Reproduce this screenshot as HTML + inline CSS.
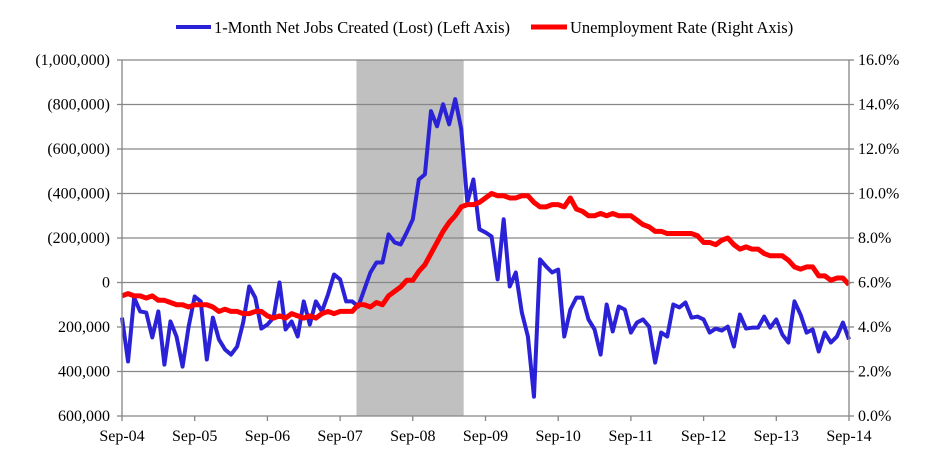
<!DOCTYPE html>
<html><head><meta charset="utf-8"><style>
body{margin:0;background:#fff;}
svg text{font-family:"Liberation Serif",serif;fill:#000;}
</style></head><body>
<svg id="chart" width="932" height="459" viewBox="0 0 932 459" xmlns="http://www.w3.org/2000/svg">
<g id="legend">
  <line x1="176" y1="27" x2="211" y2="27" stroke="#2b22d8" stroke-width="4"/>
  <text x="214" y="33" font-size="16.5">1-Month Net Jobs Created (Lost) (Left Axis)</text>
  <line x1="531" y1="27" x2="567" y2="27" stroke="#ff0000" stroke-width="5"/>
  <text x="570" y="33" font-size="16.5">Unemployment Rate (Right Axis)</text>
</g>
<g id="recession"></g>
<g id="grid"></g>
<g id="series"></g>
<g id="axes"></g>
</svg>
<script>
const leftTicks=[-1000000,-800000,-600000,-400000,-200000,0,200000,400000,600000];
const leftTickLabels=["(1,000,000)","(800,000)","(600,000)","(400,000)","(200,000)","0","200,000","400,000","600,000"];
const rightTicks=[16,14,12,10,8,6,4,2,0];
const xTickLabels=["Sep-04","Sep-05","Sep-06","Sep-07","Sep-08","Sep-09","Sep-10","Sep-11","Sep-12","Sep-13","Sep-14"];
const recessionStart=38.7, recessionEnd=56.4; // month index from Sep-04
// jobs in thousands; positive = created (plotted downward on inverted axis)
const jobs=[158,355,68,130,135,247,130,369,175,243,378,198,
63,85,346,158,256,301,324,288,180,18,68,207,
189,158,0,211,175,243,85,189,85,130,54,-36,
-14,85,85,108,31,-45,-90,-90,-216,-180,-171,-225,
-284,-463,-486,-770,-702,-801,-711,-824,-689,-360,-463,-239,
-225,-207,-14,-284,18,-45,135,243,513,-104,-72,-45,
-58,243,122,68,68,166,211,324,99,220,108,122,
225,180,166,198,360,225,243,99,112,90,158,153,
166,225,207,216,198,288,144,207,203,203,153,203,
166,234,270,85,144,225,211,310,225,270,243,180,256];
const unemp=[5.4,5.5,5.4,5.4,5.3,5.4,5.2,5.2,5.1,5.0,5.0,4.9,
5.0,5.0,5.0,4.9,4.7,4.8,4.7,4.7,4.6,4.6,4.7,4.7,
4.5,4.4,4.5,4.4,4.6,4.5,4.4,4.5,4.4,4.6,4.7,4.6,
4.7,4.7,4.7,5.0,5.0,4.9,5.1,5.0,5.4,5.6,5.8,6.1,
6.1,6.5,6.8,7.3,7.8,8.3,8.7,9.0,9.4,9.5,9.5,9.6,
9.8,10.0,9.9,9.9,9.8,9.8,9.9,9.9,9.6,9.4,9.4,9.5,
9.5,9.4,9.8,9.3,9.2,9.0,9.0,9.1,9.0,9.1,9.0,9.0,
9.0,8.8,8.6,8.5,8.3,8.3,8.2,8.2,8.2,8.2,8.2,8.1,
7.8,7.8,7.7,7.9,8.0,7.7,7.5,7.6,7.5,7.5,7.3,7.2,
7.2,7.2,7.0,6.7,6.6,6.7,6.7,6.3,6.3,6.1,6.2,6.2,5.9];

const NS="http://www.w3.org/2000/svg";
const X0=122,X1=849,Y0=60,Y1=416;
const xS=i=>X0+(X1-X0)*i/120;
const yL=v=>Y0+(v-(-1000000))/(1600000)*(Y1-Y0);
const yR=p=>Y1-(p/16)*(Y1-Y0);
function mk(tag,parent,attrs){const e=document.createElementNS(NS,tag);for(const k in attrs)e.setAttribute(k,attrs[k]);document.getElementById(parent).appendChild(e);return e;}

let r=mk('rect','recession',{x:xS(recessionStart),y:Y0,width:xS(recessionEnd)-xS(recessionStart),height:Y1-Y0,fill:'#c0c0c0'});



leftTicks.forEach((v,i)=>{
  const y=yL(v);
  if(i<leftTicks.length-1){
    const g=mk('line','grid',{x1:X0,x2:X1,y1:y,y2:y,stroke:'#868686','stroke-width':1.3});
    
    
  }
  const t=mk('line','axes',{x1:X0-5,x2:X0,y1:y,y2:y,stroke:'#868686','stroke-width':1.3});
  
  
  const tx=mk('text','axes',{x:X0-12,y:y+5,'font-size':16,'text-anchor':'end'});
  tx.textContent=leftTickLabels[i];
  
  
});
rightTicks.forEach(p=>{
  const y=yR(p);
  const t=mk('line','axes',{x1:X1,x2:X1+5,y1:y,y2:y,stroke:'#868686','stroke-width':1.3});
  
  
  const tx=mk('text','axes',{x:X1+9,y:y+5,'font-size':16});
  tx.textContent=p.toFixed(1)+'%';
  
  
});
let a=mk('line','axes',{x1:X0,x2:X0,y1:Y0,y2:Y1,stroke:'#868686','stroke-width':1.3});


a=mk('line','axes',{x1:X1,x2:X1,y1:Y0,y2:Y1,stroke:'#868686','stroke-width':1.3});


a=mk('line','axes',{x1:X0,x2:X1,y1:Y1,y2:Y1,stroke:'#868686','stroke-width':1.3});


xTickLabels.forEach((l,i)=>{
  const x=xS(i*12);
  const t=mk('line','axes',{x1:x,x2:x,y1:Y1,y2:Y1+5,stroke:'#868686','stroke-width':1.3});
  
  
  const tx=mk('text','axes',{x:x,y:Y1+25,'font-size':16,'text-anchor':'middle'});
  tx.textContent=l;
  
  
});
const jp=mk('polyline','series',{points:jobs.map((v,i)=>xS(i)+','+yL(v*1000)).join(' '),fill:'none',stroke:'#2b22d8','stroke-width':4,'stroke-linejoin':'round'});


const up=mk('polyline','series',{points:unemp.map((v,i)=>xS(i)+','+yR(v)).join(' '),fill:'none',stroke:'#ff0000','stroke-width':5,'stroke-linejoin':'round'});


</script>
</body></html>
